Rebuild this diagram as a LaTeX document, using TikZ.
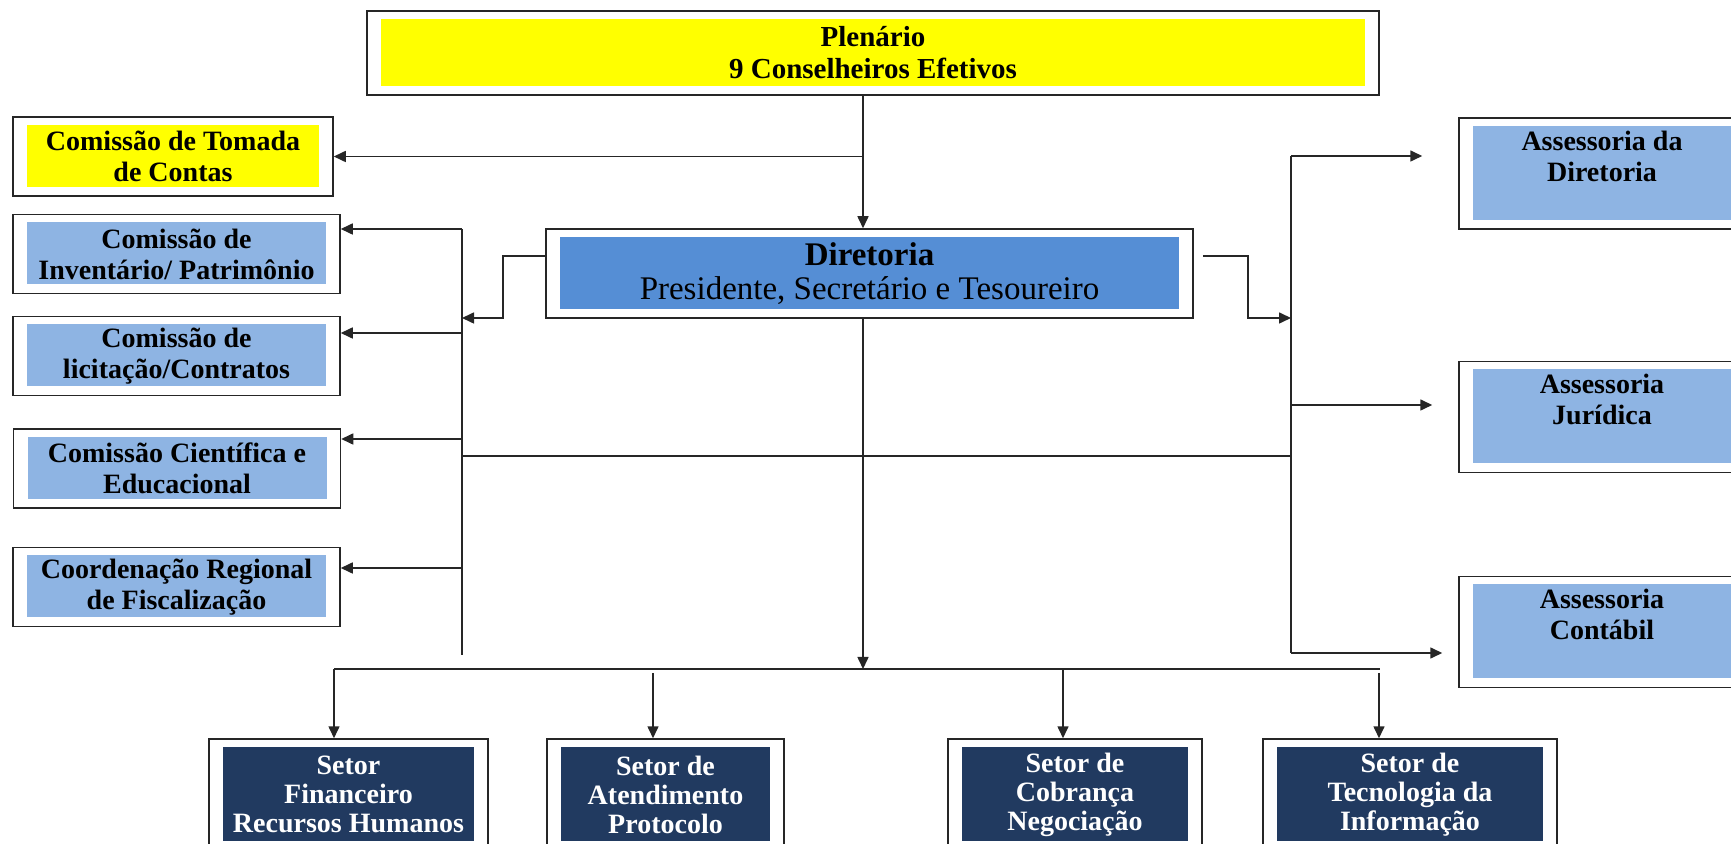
\documentclass[tikz,border=0pt]{standalone}
\usepackage{fontspec}
\setmainfont{Liberation Serif}
\usetikzlibrary{arrows.meta}

\definecolor{amarelo}{RGB}{255,255,0}
\definecolor{azulclaro}{RGB}{142,180,227}
\definecolor{azulmedio}{RGB}{85,142,213}
\definecolor{azulescuro}{RGB}{33,58,96}

\begin{document}
\begin{tikzpicture}[x=0.5pt, y=-0.5pt, align=center, >={Triangle[length=6pt,width=5.5pt]},
	caixa/.style={draw=black!85, line width=0.75pt, fill=white, inner sep=0pt,
		path picture={\fill[#1] ([shift={(7pt,-4pt)}]path picture bounding box.north west) rectangle ([shift={(-7pt,4.5pt)}]path picture bounding box.south east);}},
	comissao/.style={caixa=#1, minimum width=163.5pt, minimum height=39.5pt, font=\fontsize{14pt}{15.5pt}\selectfont\bfseries},
	comissao/.default=azulclaro,
	assessoria/.style={caixa=azulclaro, minimum width=143pt, minimum height=55.5pt, font=\fontsize{14pt}{15.5pt}\selectfont\bfseries},
	setor/.style={caixa=azulescuro, minimum height=55.5pt, text=white, font=\fontsize{14pt}{14.5pt}\selectfont\bfseries},
	linha/.style={draw=black!85, line width=0.8pt}]

	\useasboundingbox (0,0) rectangle (1731,844);
	\clip (0,0) rectangle (1731,844);

	% topo
	\node[caixa=amarelo, minimum width=506pt, minimum height=42pt, font=\fontsize{14.5pt}{16pt}\selectfont\bfseries] (plenario) at (873,53) {Plenário\\9 Conselheiros Efetivos};
	\node[caixa=azulmedio, minimum width=323.5pt, minimum height=44.5pt, font=\fontsize{16.5pt}{17pt}\selectfont] (diretoria) at (869.5,273.5) {\textbf{Diretoria}\\Presidente, Secretário e Tesoureiro};

	% comissoes
	\node[comissao=amarelo, minimum width=160pt] (tomada) at (173,156.5) {Comissão de Tomada\\de Contas};
	\node[comissao] (inventario) at (176.5,254) {Comissão de\\Inventário/ Patrimônio};
	\node[comissao] (licitacao) at (176.5,356) {Comissão de\\licitação/Contratos};
	\node[comissao] (cientifica) at (177,468.5) {Comissão Científica e\\Educacional};
	\node[comissao] (coordenacao) at (176.5,587) {Coordenação Regional\\de Fiscalização};

	% assessorias
	\node[assessoria] (assdir) at (1602,173.5) {Assessoria da\\Diretoria\\[2pt]\mbox{}};
	\node[assessoria] (juridica) at (1602,417) {Assessoria\\Jurídica\\[2pt]\mbox{}};
	\node[assessoria] (contabil) at (1602,632) {Assessoria\\Contábil\\[2pt]\mbox{}};

	% setores
	\node[setor, minimum width=139.5pt] (financeiro) at (348.5,794.5) {Setor\\Financeiro\\Recursos Humanos};
	\node[setor, minimum width=118.5pt] (atendimento) at (665.5,794.5) {Setor de\\Atendimento\\Protocolo};
	\node[setor, minimum width=127pt] (cobranca) at (1075,794.5) {Setor de\\Cobrança\\Negociação};
	\node[setor, minimum width=147pt] (tecnologia) at (1410,794.5) {Setor de\\Tecnologia da\\Informação};

	\coordinate (eixo) at (863,669);
	\coordinate (esqtopo) at (462,229);
	\coordinate (esqbase) at (462,655);
	\coordinate (dirtopo) at (1291,156);
	\coordinate (dirbase) at (1291,653);

	% ligacoes do plenario
	\draw[linha, ->] (plenario.south -| eixo) -- (diretoria.north -| eixo);
	\draw[linha, ->] (eixo |- tomada.east) -- (tomada.east);

	% lado esquerdo
	\draw[linha] (esqtopo) -- (esqbase);
	\draw[linha, ->] ([yshift=8.75pt]diretoria.west) -- ++(-42,0) |- (esqtopo |- 0,318);
	\draw[linha, ->] (esqtopo) -- (esqtopo -| inventario.east);
	\draw[linha, ->] (462,333) -- (licitacao.east |- 462,333);
	\draw[linha, ->] (462,439) -- (cientifica.east |- 462,439);
	\draw[linha, ->] (462,568) -- (coordenacao.east |- 462,568);
	\draw[linha] (esqtopo |- 0,456) -- (dirtopo |- 0,456);

	% lado direito
	\draw[linha] (dirtopo) -- (dirbase);
	\draw[linha, ->] ([xshift=4.5pt, yshift=8.75pt]diretoria.east) -- ++(45,0) |- (dirtopo |- 0,318);
	\draw[linha, ->, shorten >=18pt] (dirtopo) -- (dirtopo -| assdir.west);
	\draw[linha, ->, shorten >=13pt] (1291,405) -- (juridica.west |- 1291,405);
	\draw[linha, ->, shorten >=8pt] (dirbase) -- (dirbase -| contabil.west);

	% setores
	\draw[linha, ->] (diretoria.south -| eixo) -- (eixo);
	\draw[linha] (334,669) -- (1380,669);
	\draw[linha, ->] (334,669) -- (334,669 |- financeiro.north);
	\draw[linha, ->] (653,673) -- (653,673 |- atendimento.north);
	\draw[linha, ->] (1063,669) -- (1063,669 |- cobranca.north);
	\draw[linha, ->] (1379,673) -- (1379,673 |- tecnologia.north);
\end{tikzpicture}
\end{document}
